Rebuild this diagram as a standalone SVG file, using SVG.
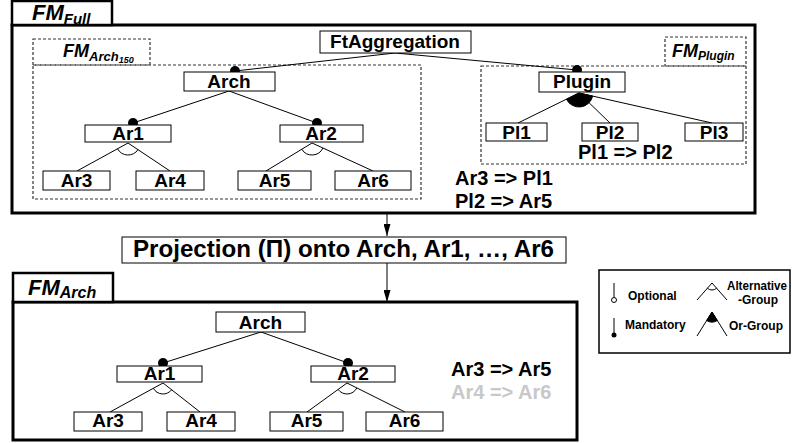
<svg xmlns="http://www.w3.org/2000/svg" width="792" height="443" viewBox="0 0 792 443">
<style>
text{font-family:"Liberation Sans",Arial,sans-serif;font-weight:bold;fill:#000}
.n{fill:#fff;stroke:#000;stroke-width:1}
.lbl{font-size:19px;text-anchor:middle}
.frame{fill:none;stroke:#000;stroke-width:3}
.tab{fill:#fff;stroke:#000;stroke-width:2.5}
.dash{fill:none;stroke:#333;stroke-width:1.2;stroke-dasharray:3,2}
.e{stroke:#000;stroke-width:1;fill:none}
.arc{stroke:#000;stroke-width:1;fill:none}
.or{fill:#000;stroke:#000;stroke-width:1}
.dot{fill:#000}
.fm{font-style:italic}
.c{font-size:20px}
.lg{font-size:12px}
</style>
<defs>
<marker id="ah" viewBox="0 0 12 7" refX="12" refY="3.5" markerWidth="12" markerHeight="7" markerUnits="userSpaceOnUse" orient="auto">
<path d="M0,0 L12,3.5 L0,7 Z" fill="#000"/>
</marker>
</defs>

<!-- Top frame FM_Full -->
<g id="fmfull">
<rect class="frame" x="12" y="25" width="743" height="188"/>
<rect class="tab" x="12" y="1" width="100" height="24"/>
<text class="fm" x="32" y="20" font-size="22">FM<tspan font-size="15" dy="4">Full</tspan></text>
</g>
<g id="fmarch150">
<rect class="dash" x="33" y="65" width="388" height="134"/>
<rect class="dash" x="33" y="39" width="117" height="26"/>
<text class="fm" x="63" y="57" font-size="18">FM<tspan font-size="13" dy="4">Arch</tspan><tspan font-size="9" dy="2">150</tspan></text>
</g>
<g id="fmplugin">
<rect class="dash" x="481" y="66" width="265" height="98"/>
<rect class="dash" x="665" y="37" width="81" height="29"/>
<text class="fm" x="672" y="57" font-size="18">FM<tspan font-size="12" dy="3">Plugin</tspan></text>
</g>

<!-- connectors -->
<g id="connectors">
<path class="e" d="M395,53 L235,71 M395,53 L577,70"/>
<path class="e" d="M229,91 L133,123 M229,91 L317,123"/>
<path class="e" d="M128,143 L77,171 M128,143 L170,171"/>
<path class="arc" d="M117.5,148.8 A12,12 0 0 0 138,149.7"/>
<path class="e" d="M312,143 L266,171 M312,143 L373,171"/>
<path class="arc" d="M301.75,149.24 A12,12 0 0 0 322.9,148"/>
<path class="or" d="M579,93 L566.44,99.18 A14,14 0 0 0 592.66,96.08 Z"/>
<path class="e" d="M579,93 L518,123 M579,93 L610,123 M579,93 L712,123"/>
<path class="e" d="M387,213 L387,236" marker-end="url(#ah)"/>
<path class="e" d="M387,263 L387,302" marker-end="url(#ah)"/>
<path class="e" d="M261,332 L163,363 M261,332 L348,363"/>
<path class="e" d="M163,383 L110,412 M163,383 L200,412"/>
<path class="arc" d="M153.35,388.28 A11,11 0 0 0 171.66,389.79"/>
<path class="e" d="M347,383 L307,412 M347,383 L405,412"/>
<path class="arc" d="M338.1,389.46 A11,11 0 0 0 356.84,387.92"/>
<circle class="dot" cx="235" cy="71" r="5"/>
<circle class="dot" cx="577" cy="70" r="5"/>
<circle class="dot" cx="133" cy="123" r="5"/>
<circle class="dot" cx="317" cy="123" r="5"/>
<circle class="dot" cx="163" cy="363" r="5"/>
<circle class="dot" cx="348" cy="363" r="5"/>
</g>

<!-- top nodes -->
<g id="ftagg"><rect class="n" x="320" y="31" width="151" height="22"/><text class="lbl" x="395" y="48">FtAggregation</text></g>
<g id="arch"><rect class="n" x="184" y="72" width="91" height="19"/><text class="lbl" x="229" y="88">Arch</text></g>
<g id="ar1"><rect class="n" x="85" y="125" width="86" height="17"/><text class="lbl" x="128" y="140">Ar1</text></g>
<g id="ar2"><rect class="n" x="280" y="125" width="83" height="17"/><text class="lbl" x="321" y="140">Ar2</text></g>
<g id="ar3"><rect class="n" x="43" y="171" width="67" height="19"/><text class="lbl" x="76.5" y="187">Ar3</text></g>
<g id="ar4"><rect class="n" x="136" y="171" width="68" height="19"/><text class="lbl" x="170" y="187">Ar4</text></g>
<g id="ar5"><rect class="n" x="238" y="171" width="73" height="19"/><text class="lbl" x="274.5" y="187">Ar5</text></g>
<g id="ar6"><rect class="n" x="335" y="171" width="76" height="19"/><text class="lbl" x="373" y="187">Ar6</text></g>
<g id="plugin"><rect class="n" x="539" y="72" width="86" height="20"/><text class="lbl" x="582" y="88">Plugin</text></g>
<g id="pl1"><rect class="n" x="486" y="123" width="61" height="18"/><text class="lbl" x="516.5" y="139">Pl1</text></g>
<g id="pl2"><rect class="n" x="582" y="123" width="56" height="18"/><text class="lbl" x="610" y="139">Pl2</text></g>
<g id="pl3"><rect class="n" x="685" y="123" width="58" height="18"/><text class="lbl" x="714" y="139">Pl3</text></g>
<text class="c" x="578" y="159">Pl1 =&gt; Pl2</text>
<text class="c" x="455" y="185">Ar3 =&gt; Pl1</text>
<text class="c" x="455" y="208">Pl2 =&gt; Ar5</text>

<!-- projection -->
<g id="projection"><rect class="n" x="122" y="237" width="444" height="26"/><text x="133" y="257" font-size="23" textLength="421" lengthAdjust="spacingAndGlyphs">Projection (Π) onto Arch, Ar1, …, Ar6</text></g>

<!-- bottom frame FM_Arch -->
<g id="fmarch">
<rect class="frame" x="13" y="302" width="564" height="138"/>
<rect class="tab" x="13" y="273" width="100" height="29"/>
<text class="fm" x="28" y="295" font-size="22">FM<tspan font-size="16" dy="3">Arch</tspan></text>
</g>
<g id="b_arch"><rect class="n" x="216" y="312" width="89" height="20"/><text class="lbl" x="260.5" y="329">Arch</text></g>
<g id="b_ar1"><rect class="n" x="117" y="366" width="85" height="16"/><text class="lbl" x="159.5" y="380">Ar1</text></g>
<g id="b_ar2"><rect class="n" x="311" y="366" width="84" height="16"/><text class="lbl" x="353" y="380">Ar2</text></g>
<g id="b_ar3"><rect class="n" x="74" y="412" width="68" height="19"/><text class="lbl" x="108" y="427">Ar3</text></g>
<g id="b_ar4"><rect class="n" x="167" y="412" width="68" height="19"/><text class="lbl" x="201" y="427">Ar4</text></g>
<g id="b_ar5"><rect class="n" x="270" y="412" width="73" height="19"/><text class="lbl" x="306.5" y="427">Ar5</text></g>
<g id="b_ar6"><rect class="n" x="366" y="412" width="77" height="19"/><text class="lbl" x="404.5" y="427">Ar6</text></g>
<text class="c" x="451" y="376">Ar3 =&gt; Ar5</text>
<text class="c" x="451" y="399" style="fill:#c8c8c8">Ar4 =&gt; Ar6</text>

<!-- legend -->
<g id="legend">
<rect x="599" y="270" width="191" height="83" fill="#fff" stroke="#000" stroke-width="1.5"/>
<path class="e" d="M614,283 L614,297.5"/>
<circle cx="614" cy="300" r="2.5" fill="#fff" stroke="#000" stroke-width="1"/>
<text class="lg" x="628" y="300">Optional</text>
<path class="e" d="M614,318 L614,334"/>
<circle cx="614" cy="335" r="2.5" fill="#000"/>
<text class="lg" x="625" y="329">Mandatory</text>
<path class="e" d="M712,283 L697,300 M712,283 L727,300"/>
<path class="arc" d="M707.37,288.25 A7,7 0 0 0 716.63,288.25"/>
<text class="lg" x="727" y="290" textLength="60" lengthAdjust="spacingAndGlyphs">Alternative</text>
<text class="lg" x="758" y="304" text-anchor="middle">-Group</text>
<path class="or" d="M712,312 L706.7,320.5 A10,10 0 0 0 717.3,320.5 Z"/>
<path class="e" d="M712,312 L697,336 M712,312 L727,336"/>
<text class="lg" x="729" y="330">Or-Group</text>
</g>
</svg>
